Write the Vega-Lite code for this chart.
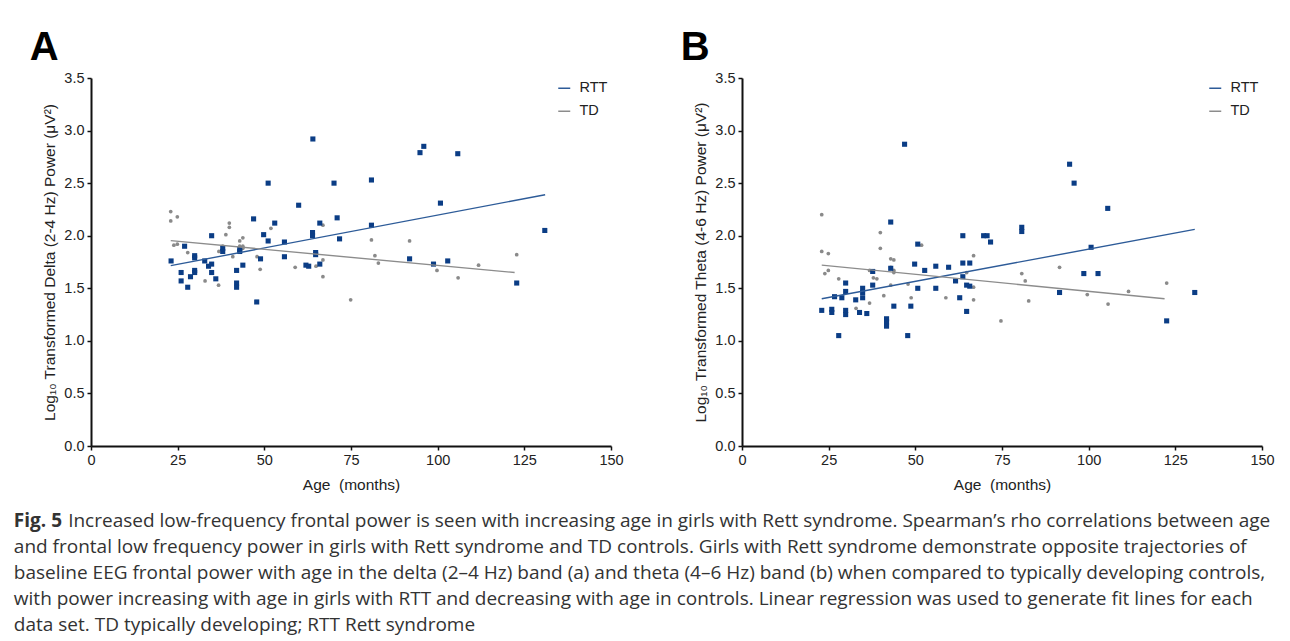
{
  "$schema": "https://vega.github.io/schema/vega-lite/v6.json",
  "background": "white",
  "padding": {"left": 13, "top": 28, "right": 0, "bottom": 0},
  "spacing": 56,
  "config": {
    "view": {"stroke": null},
    "axis": {
      "grid": false,
      "domainColor": "#111",
      "domainWidth": 2,
      "tickColor": "#111",
      "tickWidth": 1.5,
      "tickSize": 4,
      "labelFlush": false,
      "labelFont": "Liberation Sans",
      "labelFontSize": 14.5,
      "labelColor": "#222",
      "labelPadding": 3,
      "titleFont": "Liberation Sans",
      "titleFontSize": 15.5,
      "titleFontWeight": "normal",
      "titleColor": "#222"
    },
    "legend": {
      "labelFont": "Liberation Sans",
      "labelFontSize": 14.5,
      "labelColor": "#222"
    }
  },
  "title": {
    "text": "Fig. 5",
    "subtitle": [
      "\u200b\u00a0\u00a0\u00a0\u00a0\u00a0\u00a0\u00a0\u00a0\u00a0\u00a0\u00a0Increased low-frequency frontal power is seen with increasing age in girls with Rett syndrome. Spearman’s rho correlations between age",
      "and frontal low frequency power in girls with Rett syndrome and TD controls. Girls with Rett syndrome demonstrate opposite trajectories of",
      "baseline EEG frontal power with age in the delta (2–4 Hz) band (a) and theta (4–6 Hz) band (b) when compared to typically developing controls,",
      "with power increasing with age in girls with RTT and decreasing with age in controls. Linear regression was used to generate fit lines for each",
      "data set. TD typically developing; RTT Rett syndrome"
    ],
    "orient": "bottom",
    "anchor": "start",
    "frame": "bounds",
    "offset": 19,
    "dx": -16,
    "font": "Open Sans",
    "fontSize": 19,
    "fontWeight": "bold",
    "color": "#333",
    "subtitleFont": "Open Sans",
    "subtitleFontSize": 19,
    "subtitleColor": "#333",
    "subtitleLineHeight": 26,
    "subtitlePadding": -19
  },
  "datasets": {
    "pts": [
      {"p":"A","g":"RTT","age":64.0,"pow":2.92},{"p":"A","g":"RTT","age":51.1,"pow":2.50},{"p":"A","g":"RTT","age":70.1,"pow":2.50},{"p":"A","g":"RTT","age":59.9,"pow":2.29},{"p":"A","g":"RTT","age":46.9,"pow":2.16},{"p":"A","g":"RTT","age":71.0,"pow":2.17},{"p":"A","g":"RTT","age":53.0,"pow":2.12},{"p":"A","g":"RTT","age":66.0,"pow":2.12},{"p":"A","g":"RTT","age":34.8,"pow":2.00},{"p":"A","g":"RTT","age":49.8,"pow":2.01},{"p":"A","g":"RTT","age":63.9,"pow":2.03},{"p":"A","g":"RTT","age":63.9,"pow":2.00},{"p":"A","g":"RTT","age":71.7,"pow":1.97},{"p":"A","g":"RTT","age":51.1,"pow":1.95},{"p":"A","g":"RTT","age":55.8,"pow":1.94},{"p":"A","g":"RTT","age":27.0,"pow":1.90},{"p":"A","g":"RTT","age":38.0,"pow":1.88},{"p":"A","g":"RTT","age":38.0,"pow":1.85},{"p":"A","g":"RTT","age":42.9,"pow":1.87},{"p":"A","g":"RTT","age":42.9,"pow":1.85},{"p":"A","g":"RTT","age":29.9,"pow":1.81},{"p":"A","g":"RTT","age":29.9,"pow":1.79},{"p":"A","g":"RTT","age":23.1,"pow":1.76},{"p":"A","g":"RTT","age":64.8,"pow":1.84},{"p":"A","g":"RTT","age":64.8,"pow":1.82},{"p":"A","g":"RTT","age":48.9,"pow":1.78},{"p":"A","g":"RTT","age":55.8,"pow":1.80},{"p":"A","g":"RTT","age":32.8,"pow":1.76},{"p":"A","g":"RTT","age":34.8,"pow":1.73},{"p":"A","g":"RTT","age":33.9,"pow":1.71},{"p":"A","g":"RTT","age":43.8,"pow":1.72},{"p":"A","g":"RTT","age":62.0,"pow":1.72},{"p":"A","g":"RTT","age":62.8,"pow":1.71},{"p":"A","g":"RTT","age":66.0,"pow":1.73},{"p":"A","g":"RTT","age":26.0,"pow":1.65},{"p":"A","g":"RTT","age":29.9,"pow":1.67},{"p":"A","g":"RTT","age":29.9,"pow":1.65},{"p":"A","g":"RTT","age":34.8,"pow":1.65},{"p":"A","g":"RTT","age":28.7,"pow":1.61},{"p":"A","g":"RTT","age":42.0,"pow":1.67},{"p":"A","g":"RTT","age":36.0,"pow":1.59},{"p":"A","g":"RTT","age":26.0,"pow":1.57},{"p":"A","g":"RTT","age":42.0,"pow":1.55},{"p":"A","g":"RTT","age":27.9,"pow":1.51},{"p":"A","g":"RTT","age":42.0,"pow":1.51},{"p":"A","g":"RTT","age":47.8,"pow":1.37},{"p":"A","g":"RTT","age":96.0,"pow":2.85},{"p":"A","g":"RTT","age":94.9,"pow":2.79},{"p":"A","g":"RTT","age":105.8,"pow":2.78},{"p":"A","g":"RTT","age":80.9,"pow":2.53},{"p":"A","g":"RTT","age":100.8,"pow":2.31},{"p":"A","g":"RTT","age":80.9,"pow":2.10},{"p":"A","g":"RTT","age":130.9,"pow":2.05},{"p":"A","g":"RTT","age":91.9,"pow":1.78},{"p":"A","g":"RTT","age":98.8,"pow":1.73},{"p":"A","g":"RTT","age":102.9,"pow":1.76},{"p":"A","g":"RTT","age":122.8,"pow":1.55},
      {"p":"A","g":"TD","age":23.0,"pow":2.23},{"p":"A","g":"TD","age":23.0,"pow":2.14},{"p":"A","g":"TD","age":24.9,"pow":2.18},{"p":"A","g":"TD","age":23.9,"pow":1.91},{"p":"A","g":"TD","age":24.9,"pow":1.92},{"p":"A","g":"TD","age":27.9,"pow":1.84},{"p":"A","g":"TD","age":32.9,"pow":1.57},{"p":"A","g":"TD","age":36.8,"pow":1.53},{"p":"A","g":"TD","age":36.9,"pow":1.85},{"p":"A","g":"TD","age":38.0,"pow":1.90},{"p":"A","g":"TD","age":38.9,"pow":2.01},{"p":"A","g":"TD","age":39.9,"pow":2.12},{"p":"A","g":"TD","age":39.9,"pow":2.08},{"p":"A","g":"TD","age":40.9,"pow":1.80},{"p":"A","g":"TD","age":42.9,"pow":1.95},{"p":"A","g":"TD","age":42.9,"pow":1.90},{"p":"A","g":"TD","age":43.8,"pow":1.98},{"p":"A","g":"TD","age":43.8,"pow":1.90},{"p":"A","g":"TD","age":43.8,"pow":1.88},{"p":"A","g":"TD","age":47.9,"pow":1.80},{"p":"A","g":"TD","age":48.8,"pow":1.68},{"p":"A","g":"TD","age":51.9,"pow":2.07},{"p":"A","g":"TD","age":58.9,"pow":1.70},{"p":"A","g":"TD","age":64.9,"pow":1.71},{"p":"A","g":"TD","age":66.9,"pow":2.10},{"p":"A","g":"TD","age":66.9,"pow":1.77},{"p":"A","g":"TD","age":66.9,"pow":1.61},{"p":"A","g":"TD","age":74.9,"pow":1.39},{"p":"A","g":"TD","age":80.9,"pow":1.96},{"p":"A","g":"TD","age":91.9,"pow":1.95},{"p":"A","g":"TD","age":81.9,"pow":1.81},{"p":"A","g":"TD","age":82.9,"pow":1.74},{"p":"A","g":"TD","age":99.8,"pow":1.67},{"p":"A","g":"TD","age":105.9,"pow":1.60},{"p":"A","g":"TD","age":111.8,"pow":1.72},{"p":"A","g":"TD","age":122.8,"pow":1.82},
      {"p":"B","g":"RTT","age":46.9,"pow":2.87},{"p":"B","g":"RTT","age":42.9,"pow":2.13},{"p":"B","g":"RTT","age":63.7,"pow":2.00},{"p":"B","g":"RTT","age":69.7,"pow":2.00},{"p":"B","g":"RTT","age":70.7,"pow":2.00},{"p":"B","g":"RTT","age":71.7,"pow":1.94},{"p":"B","g":"RTT","age":50.7,"pow":1.92},{"p":"B","g":"RTT","age":49.8,"pow":1.73},{"p":"B","g":"RTT","age":52.7,"pow":1.67},{"p":"B","g":"RTT","age":55.9,"pow":1.71},{"p":"B","g":"RTT","age":59.6,"pow":1.70},{"p":"B","g":"RTT","age":63.7,"pow":1.74},{"p":"B","g":"RTT","age":65.7,"pow":1.74},{"p":"B","g":"RTT","age":37.7,"pow":1.66},{"p":"B","g":"RTT","age":42.9,"pow":1.69},{"p":"B","g":"RTT","age":61.6,"pow":1.57},{"p":"B","g":"RTT","age":63.7,"pow":1.61},{"p":"B","g":"RTT","age":64.8,"pow":1.53},{"p":"B","g":"RTT","age":65.7,"pow":1.52},{"p":"B","g":"RTT","age":29.9,"pow":1.55},{"p":"B","g":"RTT","age":37.7,"pow":1.53},{"p":"B","g":"RTT","age":50.7,"pow":1.50},{"p":"B","g":"RTT","age":55.9,"pow":1.50},{"p":"B","g":"RTT","age":34.8,"pow":1.50},{"p":"B","g":"RTT","age":34.8,"pow":1.46},{"p":"B","g":"RTT","age":34.8,"pow":1.41},{"p":"B","g":"RTT","age":29.9,"pow":1.47},{"p":"B","g":"RTT","age":26.7,"pow":1.42},{"p":"B","g":"RTT","age":28.8,"pow":1.41},{"p":"B","g":"RTT","age":32.8,"pow":1.39},{"p":"B","g":"RTT","age":62.8,"pow":1.41},{"p":"B","g":"RTT","age":43.8,"pow":1.33},{"p":"B","g":"RTT","age":48.7,"pow":1.33},{"p":"B","g":"RTT","age":23.0,"pow":1.29},{"p":"B","g":"RTT","age":25.9,"pow":1.30},{"p":"B","g":"RTT","age":25.9,"pow":1.27},{"p":"B","g":"RTT","age":29.9,"pow":1.29},{"p":"B","g":"RTT","age":29.9,"pow":1.25},{"p":"B","g":"RTT","age":33.9,"pow":1.27},{"p":"B","g":"RTT","age":36.0,"pow":1.26},{"p":"B","g":"RTT","age":64.8,"pow":1.28},{"p":"B","g":"RTT","age":41.7,"pow":1.21},{"p":"B","g":"RTT","age":41.7,"pow":1.18},{"p":"B","g":"RTT","age":41.7,"pow":1.14},{"p":"B","g":"RTT","age":27.9,"pow":1.05},{"p":"B","g":"RTT","age":47.8,"pow":1.05},{"p":"B","g":"RTT","age":94.5,"pow":2.68},{"p":"B","g":"RTT","age":95.8,"pow":2.50},{"p":"B","g":"RTT","age":105.5,"pow":2.26},{"p":"B","g":"RTT","age":80.7,"pow":2.08},{"p":"B","g":"RTT","age":80.7,"pow":2.04},{"p":"B","g":"RTT","age":100.7,"pow":1.89},{"p":"B","g":"RTT","age":98.6,"pow":1.64},{"p":"B","g":"RTT","age":102.7,"pow":1.64},{"p":"B","g":"RTT","age":91.6,"pow":1.46},{"p":"B","g":"RTT","age":130.6,"pow":1.46},{"p":"B","g":"RTT","age":122.5,"pow":1.19},
      {"p":"B","g":"TD","age":23.0,"pow":2.20},{"p":"B","g":"TD","age":23.0,"pow":1.85},{"p":"B","g":"TD","age":24.9,"pow":1.83},{"p":"B","g":"TD","age":23.9,"pow":1.64},{"p":"B","g":"TD","age":24.9,"pow":1.67},{"p":"B","g":"TD","age":27.9,"pow":1.59},{"p":"B","g":"TD","age":32.9,"pow":1.31},{"p":"B","g":"TD","age":36.8,"pow":1.36},{"p":"B","g":"TD","age":36.8,"pow":1.67},{"p":"B","g":"TD","age":37.9,"pow":1.60},{"p":"B","g":"TD","age":38.9,"pow":1.59},{"p":"B","g":"TD","age":39.9,"pow":2.03},{"p":"B","g":"TD","age":39.9,"pow":1.88},{"p":"B","g":"TD","age":40.9,"pow":1.43},{"p":"B","g":"TD","age":42.9,"pow":1.78},{"p":"B","g":"TD","age":43.8,"pow":1.77},{"p":"B","g":"TD","age":42.9,"pow":1.70},{"p":"B","g":"TD","age":43.8,"pow":1.67},{"p":"B","g":"TD","age":43.8,"pow":1.65},{"p":"B","g":"TD","age":42.9,"pow":1.53},{"p":"B","g":"TD","age":47.9,"pow":1.54},{"p":"B","g":"TD","age":48.8,"pow":1.41},{"p":"B","g":"TD","age":51.8,"pow":1.91},{"p":"B","g":"TD","age":58.8,"pow":1.41},{"p":"B","g":"TD","age":64.8,"pow":1.65},{"p":"B","g":"TD","age":66.8,"pow":1.81},{"p":"B","g":"TD","age":66.8,"pow":1.51},{"p":"B","g":"TD","age":66.8,"pow":1.39},{"p":"B","g":"TD","age":74.7,"pow":1.19},{"p":"B","g":"TD","age":80.7,"pow":1.64},{"p":"B","g":"TD","age":81.7,"pow":1.57},{"p":"B","g":"TD","age":82.7,"pow":1.38},{"p":"B","g":"TD","age":91.6,"pow":1.70},{"p":"B","g":"TD","age":99.6,"pow":1.44},{"p":"B","g":"TD","age":105.6,"pow":1.35},{"p":"B","g":"TD","age":111.5,"pow":1.47},{"p":"B","g":"TD","age":122.5,"pow":1.55}
    ],
    "fit": [
      {"p":"A","g":"RTT","age":23,"pow":1.715},{"p":"A","g":"RTT","age":131,"pow":2.39},
      {"p":"A","g":"TD","age":23,"pow":1.953},{"p":"A","g":"TD","age":122.2,"pow":1.65},
      {"p":"B","g":"RTT","age":23,"pow":1.40},{"p":"B","g":"RTT","age":130.6,"pow":2.06},
      {"p":"B","g":"TD","age":23,"pow":1.72},{"p":"B","g":"TD","age":121.9,"pow":1.40}
    ]
  },
  "hconcat": [
    {
      "width": 520,
      "height": 368,
      "title": {"text": "A", "anchor": "start", "frame": "bounds", "font": "Liberation Sans", "fontSize": 40, "fontWeight": "bold", "color": "#000", "offset": 2, "dx": -13},
      "encoding": {
        "x": {"field": "age", "type": "quantitative", "scale": {"domain": [0, 150], "nice": false}, "axis": {"values": [0, 25, 50, 75, 100, 125, 150], "title": "Age\u00a0 (months)", "titlePadding": 11}},
        "y": {"field": "pow", "type": "quantitative", "scale": {"domain": [0, 3.5], "nice": false}, "axis": {"values": [0, 0.5, 1, 1.5, 2, 2.5, 3, 3.5], "format": ".1f", "title": "Log₁₀ Transformed Delta (2-4 Hz) Power (μV²)", "titlePadding": 6}}
      },
      "layer": [
        {"data": {"name": "pts"}, "transform": [{"filter": "datum.p === 'A' && datum.g === 'TD'"}], "mark": {"type": "point", "shape": "circle", "filled": true, "size": 14, "color": "#8a8a8a", "opacity": 1}},
        {"data": {"name": "pts"}, "transform": [{"filter": "datum.p === 'A' && datum.g === 'RTT'"}], "mark": {"type": "square", "size": 26, "color": "#0b3d85", "opacity": 1}},
        {"data": {"name": "fit"}, "transform": [{"filter": "datum.p === 'A'"}], "mark": {"type": "line", "strokeWidth": 1.4},
          "encoding": {"color": {"field": "g", "type": "nominal", "scale": {"domain": ["RTT", "TD"], "range": ["#2d5b98", "#8c8c8c"]}, "legend": {"title": null, "orient": "top-right", "offset": 3, "symbolType": "stroke", "symbolSize": 144, "symbolStrokeWidth": 1.5, "rowPadding": 8, "labelOffset": 8}}}}
      ]
    },
    {
      "width": 520,
      "height": 368,
      "title": {"text": "B", "anchor": "start", "frame": "bounds", "font": "Liberation Sans", "fontSize": 40, "fontWeight": "bold", "color": "#000", "offset": 2, "dx": -13},
      "encoding": {
        "x": {"field": "age", "type": "quantitative", "scale": {"domain": [0, 150], "nice": false}, "axis": {"values": [0, 25, 50, 75, 100, 125, 150], "title": "Age\u00a0 (months)", "titlePadding": 11}},
        "y": {"field": "pow", "type": "quantitative", "scale": {"domain": [0, 3.5], "nice": false}, "axis": {"values": [0, 0.5, 1, 1.5, 2, 2.5, 3, 3.5], "format": ".1f", "title": "Log₁₀ Transformed Theta (4-6 Hz) Power (μV²)", "titlePadding": 6}}
      },
      "layer": [
        {"data": {"name": "pts"}, "transform": [{"filter": "datum.p === 'B' && datum.g === 'TD'"}], "mark": {"type": "point", "shape": "circle", "filled": true, "size": 14, "color": "#8a8a8a", "opacity": 1}},
        {"data": {"name": "pts"}, "transform": [{"filter": "datum.p === 'B' && datum.g === 'RTT'"}], "mark": {"type": "square", "size": 26, "color": "#0b3d85", "opacity": 1}},
        {"data": {"name": "fit"}, "transform": [{"filter": "datum.p === 'B'"}], "mark": {"type": "line", "strokeWidth": 1.4},
          "encoding": {"color": {"field": "g", "type": "nominal", "scale": {"domain": ["RTT", "TD"], "range": ["#2d5b98", "#8c8c8c"]}, "legend": {"title": null, "orient": "top-right", "offset": 3, "symbolType": "stroke", "symbolSize": 144, "symbolStrokeWidth": 1.5, "rowPadding": 8, "labelOffset": 8}}}}
      ]
    }
  ],
  "resolve": {"scale": {"color": "independent"}}
}
